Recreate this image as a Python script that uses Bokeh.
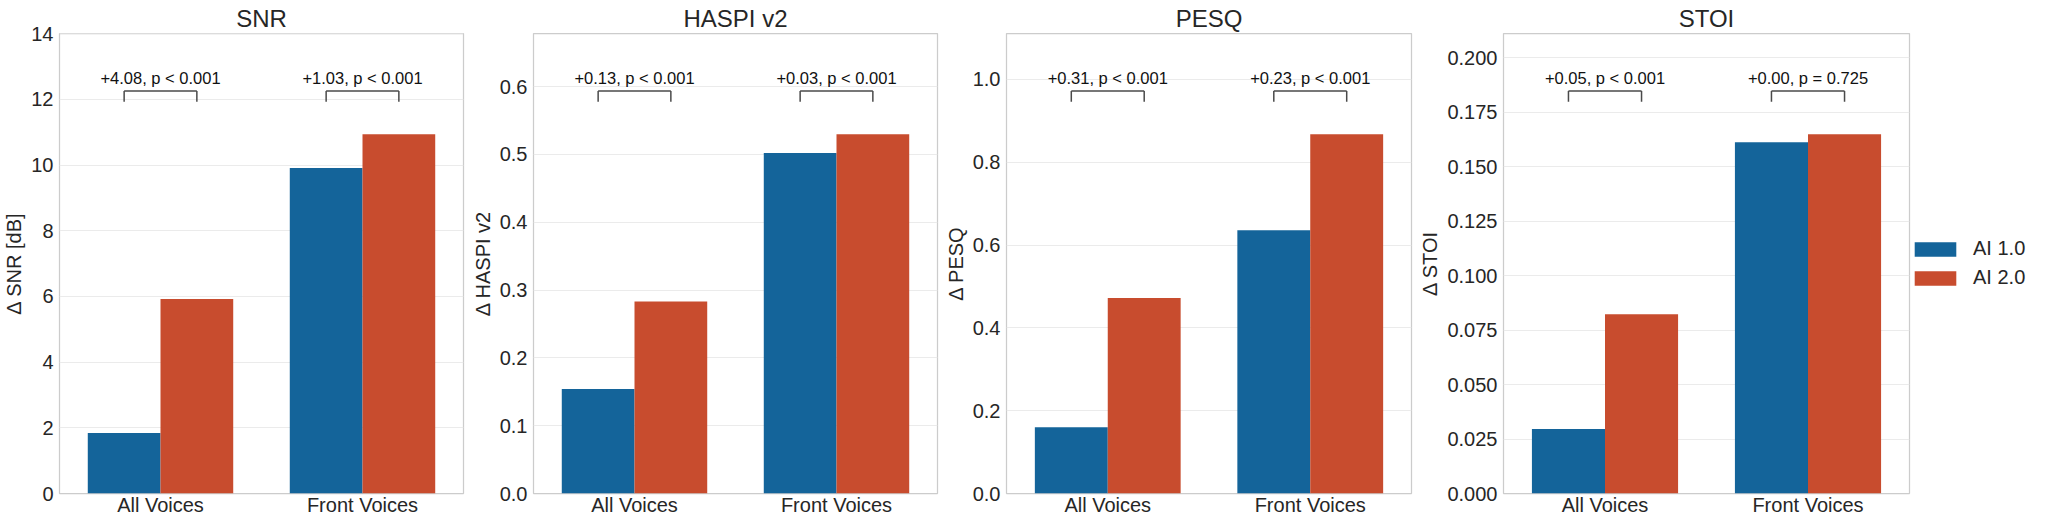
from bokeh.plotting import figure
from bokeh.layouts import row
from bokeh.models import (ColumnDataSource, FactorRange, Range1d, FixedTicker,
                          Legend, LegendItem, PrintfTickFormatter)
from bokeh.transform import dodge
from bokeh.core.properties import value
from bokeh.embed import file_html
from bokeh.resources import INLINE

# ---------------- data ----------------
categories = ["All Voices", "Front Voices"]
series_labels = ["AI 1.0", "AI 2.0"]
titles = ["SNR", "HASPI v2", "PESQ", "STOI"]
y_labels = ["Δ SNR [dB]", "Δ HASPI v2", "Δ PESQ", "Δ STOI"]

snr_ai1 = [1.84, 9.91]
snr_ai2 = [5.92, 10.94]
haspi_ai1 = [0.154, 0.502]
haspi_ai2 = [0.283, 0.530]
pesq_ai1 = [0.160, 0.636]
pesq_ai2 = [0.472, 0.868]
stoi_ai1 = [0.0296, 0.1613]
stoi_ai2 = [0.0823, 0.1650]

snr_notes = ["+4.08, p < 0.001", "+1.03, p < 0.001"]
haspi_notes = ["+0.13, p < 0.001", "+0.03, p < 0.001"]
pesq_notes = ["+0.31, p < 0.001", "+0.23, p < 0.001"]
stoi_notes = ["+0.05, p < 0.001", "+0.00, p = 0.725"]

snr_ticks = [0, 2, 4, 6, 8, 10, 12, 14]
haspi_ticks = [0.0, 0.1, 0.2, 0.3, 0.4, 0.5, 0.6]
pesq_ticks = [0.0, 0.2, 0.4, 0.6, 0.8, 1.0]
stoi_ticks = [0.0, 0.025, 0.05, 0.075, 0.1, 0.125, 0.15, 0.175, 0.2]
tick_formats = ["%d", "%.1f", "%.1f", "%.3f"]

# ---------------- style ----------------
FONT = "Liberation Sans"
BLUE = "#14649A"
RED = "#C84C2E"
TEXT = "#262626"
FRAME_H = 460
BAR_W = 0.36
OFF = 0.18


def make_panel(idx, ai1, ai2, notes, ticks, frame_w, mbl, mbr, with_legend=False):
    ymax = max(ai1 + ai2)
    p = figure(
        x_range=FactorRange(factors=categories, range_padding=0),
        y_range=Range1d(0, ymax * 1.28),
        frame_width=frame_w, frame_height=FRAME_H,
        output_backend="svg", toolbar_location=None,
        min_border_left=mbl, min_border_right=mbr,
        min_border_top=33, min_border_bottom=27,
    )
    src = ColumnDataSource(dict(
        cat=categories, ai1=ai1, ai2=ai2, note=notes,
        lo=[ymax * 1.09] * len(categories),
        hi=[ymax * 1.12] * len(categories),
        ty=[ymax * 1.14] * len(categories),
    ))
    r1 = p.vbar(x=dodge("cat", -OFF, range=p.x_range), top="ai1", width=BAR_W,
                source=src, fill_color=BLUE, line_color=None)
    r2 = p.vbar(x=dodge("cat", OFF, range=p.x_range), top="ai2", width=BAR_W,
                source=src, fill_color=RED, line_color=None)

    bk = dict(line_color="#4a4a4a", line_width=1.5, source=src)
    p.segment(x0=dodge("cat", -OFF, range=p.x_range), x1=dodge("cat", OFF, range=p.x_range),
              y0="hi", y1="hi", **bk)
    p.segment(x0=dodge("cat", -OFF, range=p.x_range), x1=dodge("cat", -OFF, range=p.x_range),
              y0="lo", y1="hi", **bk)
    p.segment(x0=dodge("cat", OFF, range=p.x_range), x1=dodge("cat", OFF, range=p.x_range),
              y0="lo", y1="hi", **bk)
    p.text(x="cat", y="ty", text="note", source=src, text_align="center",
           text_baseline="alphabetic", y_offset=-6, text_font=value(FONT),
           text_font_size=value("16.5px"), text_color="#111111")

    p.title.text = titles[idx]
    p.title.align = "center"
    p.title.text_font = FONT
    p.title.text_font_size = "24px"
    p.title.text_font_style = "normal"
    p.title.text_color = TEXT
    p.title.standoff = 4

    p.yaxis.ticker = FixedTicker(ticks=ticks)
    p.yaxis.formatter = PrintfTickFormatter(format=tick_formats[idx])
    p.yaxis.axis_label = y_labels[idx]
    for ax in (p.xaxis[0], p.yaxis[0]):
        ax.axis_line_color = None
        ax.major_tick_line_color = None
        ax.minor_tick_line_color = None
        ax.major_tick_out = 0
        ax.major_tick_in = 0
        ax.minor_tick_out = 0
        ax.minor_tick_in = 0
        ax.major_label_text_font = FONT
        ax.major_label_text_font_size = "20px"
        ax.major_label_text_color = TEXT
        ax.axis_label_text_font = FONT
        ax.axis_label_text_font_size = "20px"
        ax.axis_label_text_font_style = "normal"
        ax.axis_label_text_color = TEXT
        try:
            ax.axis_label_text_line_height = 1.0
        except Exception:
            pass
    p.yaxis.major_label_standoff = 6
    p.yaxis.axis_label_standoff = 3
    p.xaxis.major_label_standoff = 0

    p.xgrid.grid_line_color = None
    p.ygrid.grid_line_color = "#ebebeb"
    p.outline_line_color = "#cccccc"
    p.outline_line_width = 1.25

    if with_legend:
        legend = Legend(
            items=[LegendItem(label=series_labels[0], renderers=[r1]),
                   LegendItem(label=series_labels[1], renderers=[r2])],
            location="center_left", glyph_width=52, glyph_height=18,
            label_height=18, spacing=6, label_standoff=12, padding=6, margin=0,
            border_line_color=None, background_fill_alpha=0,
            label_text_font=FONT, label_text_font_size="20px",
            label_text_color=TEXT,
        )
        p.add_layout(legend, "right")
    return p


p1 = make_panel(0, snr_ai1, snr_ai2, snr_notes, snr_ticks, 404, 54, 4)
p2 = make_panel(1, haspi_ai1, haspi_ai2, haspi_notes, haspi_ticks, 404, 66, 4)
p3 = make_panel(2, pesq_ai1, pesq_ai2, pesq_notes, pesq_ticks, 405, 65, 4)
p4 = make_panel(3, stoi_ai1, stoi_ai2, stoi_notes, stoi_ticks, 406, 88, 110, with_legend=True)

layout = row(p1, p2, p3, p4)
open("out.html", "w").write(file_html(layout, INLINE))
